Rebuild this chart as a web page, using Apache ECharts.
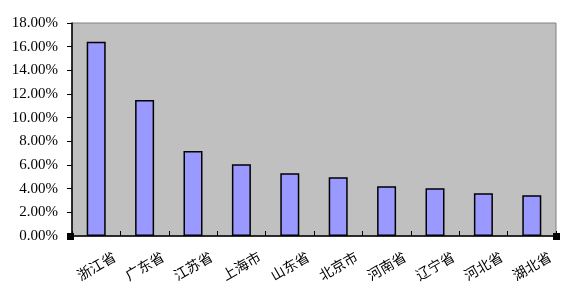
<!DOCTYPE html>
<html><head><meta charset="utf-8">
<script src="https://cdn.jsdelivr.net/npm/echarts@6/dist/echarts.min.js"></script>
<style>html,body{margin:0;padding:0;background:#fff}#c{width:571px;height:303px}</style>
</head><body><div id="c"></div>
<script>
var categories = ['浙江省','广东省','江苏省','上海市','山东省','北京市','河南省','辽宁省','河北省','湖北省'];
var shares = [16.41, 11.50, 7.18, 6.07, 5.31, 4.97, 4.21, 4.04, 3.62, 3.45];
var yMin = 0, yMax = 18, yStep = 2;

var chart = echarts.init(document.getElementById('c'), null, {renderer:'canvas'});
var font = '"Liberation Serif","Noto Sans CJK SC",serif';
chart.setOption({
  animation: false,
  backgroundColor: '#ffffff',
  grid: {left: 72, top: 23, right: 15, bottom: 67, show: true, backgroundColor: '#c0c0c0', borderColor: '#808080', borderWidth: 1},
  graphic: [
    {type: 'rect', left: 67, top: 233, shape: {width: 7, height: 7}, style: {fill: '#000'}},
    {type: 'rect', left: 553, top: 233, shape: {width: 7, height: 7}, style: {fill: '#000'}}
  ],
  xAxis: {
    type: 'category', data: categories,
    axisLine: {lineStyle: {color: '#000', width: 1.5}},
    axisTick: {show: true, inside: true, length: 5, lineStyle: {color: '#000'}},
    axisLabel: {rotate: 30, align: 'center', verticalAlign: 'middle', margin: 30, fontSize: 14, color: '#000', fontFamily: '"Noto Sans CJK SC",sans-serif'}
  },
  yAxis: {
    type: 'value', min: yMin, max: yMax, interval: yStep,
    axisLine: {show: true, lineStyle: {color: '#000', width: 1.5}},
    axisTick: {show: true, length: 5, lineStyle: {color: '#000'}},
    splitLine: {show: false},
    axisLabel: {margin: 14, fontSize: 15, color: '#000', fontFamily: font, formatter: function(v){return v.toFixed(2)+'%';}}
  },
  series: [{
    type: 'bar', data: shares, barWidth: 19,
    itemStyle: {color: '#9999ff', borderColor: '#000', borderWidth: 1.5}
  }]
});
</script></body></html>
